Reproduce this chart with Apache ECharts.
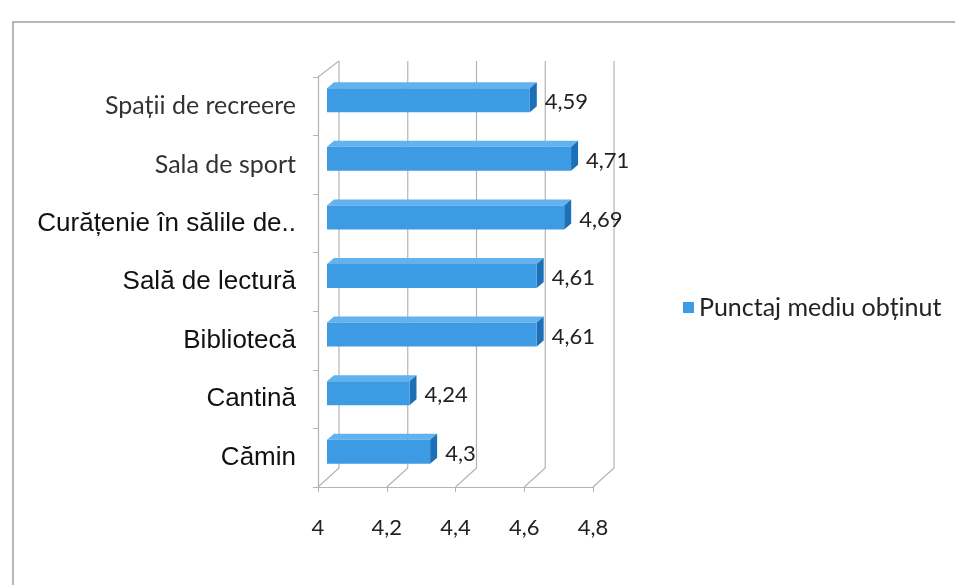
<!DOCTYPE html>
<html>
<head>
<meta charset="utf-8">
<script src="https://cdn.jsdelivr.net/npm/echarts@6/dist/echarts.min.js"></script>
<style>html,body{margin:0;padding:0;background:#fff;}#c{width:955px;height:585px;}</style>
</head>
<body>
<div id="c"></div>
<script>
const categories = ['Spații de recreere', 'Sala de sport', 'Curățenie în sălile de..', 'Sală de lectură', 'Bibliotecă', 'Cantină', 'Cămin'];
const values = [4.59, 4.71, 4.69, 4.61, 4.61, 4.24, 4.3];
const tickValues = [4, 4.2, 4.4, 4.6, 4.8];
const seriesName = 'Punctaj mediu obținut';

const AX_MIN = 4, AX_MAX = 4.8;
const WALL_DX = 21, WALL_DY_BOT = 19, WALL_DY_TOP = 16;
const BAR_DX = 9, BAR_DY = 6, DEPTH_X = 7, DEPTH_Y = 6;
const FRONT = '#3d9be3', TOP = '#62b2ee', SIDE = '#1d6fb8';
const GRID_COL = '#b4b4b4';

const chart = echarts.init(document.getElementById('c'), null, {renderer: 'canvas'});

function wallItem(params, api) {
  const v = api.value(0);
  const cs = params.coordSys;
  const p = api.coord([v, 0]);
  const x = p[0];
  const bottom = cs.y + cs.height;
  const top = cs.y;
  const children = [
    {type: 'line', shape: {x1: x + WALL_DX, y1: top - WALL_DY_TOP, x2: x + WALL_DX, y2: bottom - WALL_DY_BOT}, style: {stroke: GRID_COL, lineWidth: 1.2}},
    {type: 'line', shape: {x1: x, y1: bottom, x2: x + WALL_DX, y2: bottom - WALL_DY_BOT}, style: {stroke: GRID_COL, lineWidth: 1.2}}
  ];
  if (v === AX_MIN) {
    children.push({type: 'line', shape: {x1: x, y1: top, x2: x + WALL_DX, y2: top - WALL_DY_TOP}, style: {stroke: GRID_COL, lineWidth: 1.2}});
  }
  return {type: 'group', children: children};
}

function barItem(params, api) {
  const idx = api.value(1);
  const val = api.value(0);
  const s = api.coord([AX_MIN, idx]);
  const e = api.coord([val, idx]);
  const h = api.size([0, 1])[1] * 0.41;
  const x0 = s[0] + BAR_DX, x1 = e[0] + BAR_DX;
  const yc = s[1] - BAR_DY;
  const yt = yc - h / 2, yb = yc + h / 2;
  return {
    type: 'group',
    children: [
      {type: 'polygon', shape: {points: [[x0, yt], [x1, yt], [x1 + DEPTH_X, yt - DEPTH_Y], [x0 + DEPTH_X, yt - DEPTH_Y]]}, style: {fill: TOP}},
      {type: 'polygon', shape: {points: [[x1, yt], [x1 + DEPTH_X, yt - DEPTH_Y], [x1 + DEPTH_X, yb - DEPTH_Y], [x1, yb]]}, style: {fill: SIDE}},
      {type: 'rect', shape: {x: x0, y: yt, width: x1 - x0, height: h}, style: {fill: FRONT}},
      {type: 'text', x: x1 + DEPTH_X + 8, y: yc + 2, style: {text: String(val).replace('.', ','), fill: '#222', font: '22px Lato', verticalAlign: 'middle', align: 'left'}}
    ]
  };
}

chart.setOption({
  backgroundColor: '#fff',
  animation: false,
  graphic: [{type: 'rect', shape: {x: 13, y: 22, width: 1000, height: 700}, style: {fill: 'none', stroke: '#a0a0a0', lineWidth: 1.5}, z: 0}],
  grid: {left: 318, top: 77, width: 275, height: 410, containLabel: false},
  legend: {
    data: [seriesName], left: 678, top: 290, orient: 'vertical', icon: 'rect', itemWidth: 11, itemHeight: 11, itemGap: 6,
    textStyle: {fontFamily: 'Lato', fontSize: 25, color: '#222'}
  },
  xAxis: {
    type: 'value', min: AX_MIN, max: AX_MAX, interval: 0.2,
    axisLine: {show: true, lineStyle: {color: GRID_COL, width: 1.2}},
    axisTick: {show: true, length: 5, lineStyle: {color: GRID_COL}},
    splitLine: {show: false},
    axisLabel: {margin: 30, fontFamily: 'Lato', fontSize: 22, color: '#222', formatter: v => String(+v.toFixed(1)).replace('.', ',')}
  },
  yAxis: {
    type: 'category', data: categories, inverse: true,
    axisLine: {show: true, lineStyle: {color: GRID_COL, width: 1.2}},
    axisTick: {show: true, length: 5, lineStyle: {color: GRID_COL}},
    splitLine: {show: false},
    axisLabel: {
      margin: 22,
      formatter: (v, i) => (i < 2 ? '{a|' + v + '}' : '{b|' + v + '}'),
      rich: {
        a: {fontFamily: 'Lato', fontSize: 25, color: '#333'},
        b: {fontFamily: 'Liberation Sans', fontSize: 26, color: '#111'}
      }
    }
  },
  series: [
    {type: 'custom', name: '_walls', data: tickValues.map(v => [v, 0]), renderItem: wallItem, silent: true, z: 1, encode: {x: 0, y: 1}},
    {type: 'custom', name: seriesName, itemStyle: {color: FRONT}, data: values.map((v, i) => [v, i]), renderItem: barItem, z: 2, encode: {x: 0, y: 1}}
  ]
});
</script>
</body>
</html>
